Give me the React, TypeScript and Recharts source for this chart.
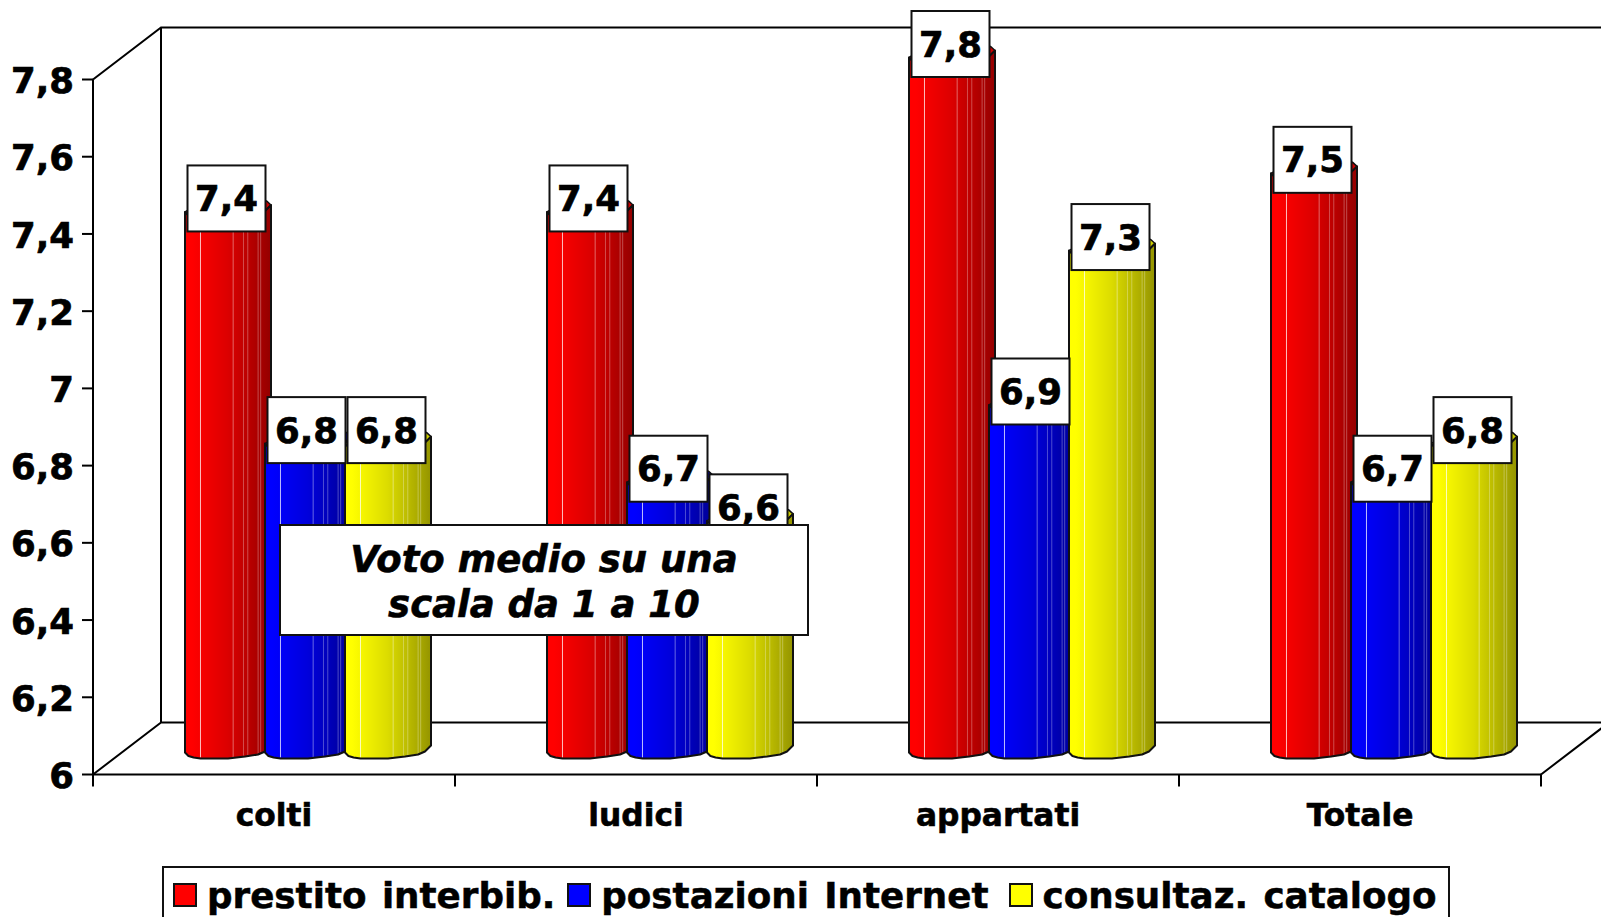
import React from "react";
import { BarChart, Bar, XAxis, YAxis, Legend, LabelList, usePlotArea } from "recharts";

const categories = ["colti", "ludici", "appartati", "Totale"];
const prestito = [7.4, 7.4, 7.8, 7.5];
const postazioni = [6.8, 6.7, 6.9, 6.7];
const consultaz = [6.8, 6.6, 7.3, 6.8];
const yTicks = [6, 6.2, 6.4, 6.6, 6.8, 7, 7.2, 7.4, 7.6, 7.8];
const seriesNames = ["prestito interbib.", "postazioni Internet", "consultaz. catalogo"];
const seriesColors = ["#ff0000", "#0000ff", "#ffff00"];
const noteLines = ["Voto medio su una", "scala da 1 a 10"];

const rows = categories.map((c, i) => ({
  category: c,
  prestito: prestito[i],
  postazioni: postazioni[i],
  consultaz: consultaz[i],
}));

const FONT = "'DejaVu Sans', Verdana, sans-serif";
const comma = (v: number | string) => String(v).replace(".", ",");

// 3D look of the original
const DEPTH_X = 68;
const DEPTH_Y = 52;
const BAR_SHIFT_X = 31;
const BAR_W = 86;
const LEGEND_GAPS = [12, 20, 0];

const PROFILE: [number, number][] = [
  [0, -22], [0.04, -18.5], [0.1, -17], [0.18, -16], [0.5, -16], [0.6, -17],
  [0.7, -18], [0.85, -20], [0.93, -23], [1, -29],
];
const BACK_ARC: [number, number][] = [
  [1, -29], [0.95, -33], [0.7, -36], [0.35, -34], [0.1, -27], [0, -22],
];
const STREAKS: [number, number][] = [
  [0.18, 0.75], [0.56, 0.4], [0.68, 0.3], [0.73, 0.3], [0.85, 0.3], [0.88, 0.3],
];

function Frame() {
  const p = usePlotArea();
  if (!p) return null;
  const L = p.x, T = p.y, R = p.x + p.width, B = p.y + p.height;
  const lc = "#000";
  const step = p.width / categories.length;
  return (
    <g>
      <defs>
        <linearGradient id="shade" x1="0" x2="1" y1="0" y2="0">
          <stop offset="0" stopColor="#000" stopOpacity="0" />
          <stop offset="0.08" stopColor="#000" stopOpacity="0" />
          <stop offset="0.5" stopColor="#000" stopOpacity="0.14" />
          <stop offset="0.9" stopColor="#000" stopOpacity="0.36" />
          <stop offset="1" stopColor="#000" stopOpacity="0.42" />
        </linearGradient>
      </defs>
      <path
        d={`M${L} ${T}L${L + DEPTH_X} ${T - DEPTH_Y}L1601 ${T - DEPTH_Y}M${L + DEPTH_X} ${T - DEPTH_Y}L${L + DEPTH_X} ${B - DEPTH_Y}L1601 ${B - DEPTH_Y}M${L} ${B}L${L + DEPTH_X} ${B - DEPTH_Y}M${R} ${B}L${R + DEPTH_X} ${B - DEPTH_Y}`}
        stroke={lc}
        strokeWidth={2}
        fill="none"
      />
      {[0, 1, 2, 3, 4].map((i) => (
        <line key={i} x1={L + i * step} x2={L + i * step} y1={B} y2={B + 12} stroke={lc} strokeWidth={2} />
      ))}
    </g>
  );
}

function Cylinder(props: any) {
  const { x, y, width, height, fill } = props;
  const x0 = x + BAR_SHIFT_X;
  const base = y + height;
  const at = (pts: [number, number][], y0: number) =>
    pts.map(([f, d]) => `${x0 + f * BAR_W} ${y0 + d}`);
  const top = at(PROFILE, y);
  const bottom = at(PROFILE, base).reverse();
  const body = `M${top.join("L")}L${bottom.join("L")}Z`;
  const cap = `M${at(PROFILE, y).join("L")}L${at(BACK_ARC, y).join("L")}Z`;
  const profileAt = (f: number) => {
    for (let i = 1; i < PROFILE.length; i++) {
      if (f <= PROFILE[i][0]) {
        const [a, da] = PROFILE[i - 1];
        const [b, db] = PROFILE[i];
        return da + ((f - a) / (b - a)) * (db - da);
      }
    }
    return -29;
  };
  return (
    <g>
      <path d={body} fill={fill} />
      <path d={body} fill="url(#shade)" />
      {STREAKS.map(([f, o]) => (
        <line
          key={f}
          x1={x0 + f * BAR_W}
          x2={x0 + f * BAR_W}
          y1={y + profileAt(f)}
          y2={base + profileAt(f) - 1}
          stroke="#fff"
          strokeOpacity={o}
          strokeWidth={1}
        />
      ))}
      <path d={cap} fill={fill} />
      <path d={cap} fill="#000" fillOpacity={0.2} />
      <path d={body} fill="none" stroke="#111" strokeWidth={2} strokeLinejoin="round" />
      <path d={cap} fill="none" stroke="#111" strokeWidth={1.5} strokeLinejoin="round" />
    </g>
  );
}

function ValueBox(props: any) {
  const { x, y, value } = props;
  const left = x + BAR_SHIFT_X + 2.5;
  const top = y - 68.5;
  return (
    <g>
      <rect x={left} y={top} width={78} height={66} fill="#fff" stroke="#111" strokeWidth={2} />
      <text
        x={left + 39}
        y={top + 45.5}
        textAnchor="middle"
        fontFamily={FONT}
        fontWeight="bold"
        fontSize={35.5}
        fill="#000"
        stroke="#000"
        strokeWidth={0.7}
      >
        {comma(value)}
      </text>
    </g>
  );
}

function LegendBox({ payload }: any) {
  return (
    <div
      style={{
        boxSizing: "border-box",
        width: 1288,
        height: 62,
        border: "2px solid #111",
        background: "#fff",
        display: "flex",
        alignItems: "flex-start",
        paddingLeft: 9,
        fontFamily: FONT,
        fontWeight: "bold",
        fontSize: 35.7,
        wordSpacing: 3,
        color: "#000",
        whiteSpace: "nowrap",
        WebkitTextStroke: "0.5px #000",
      }}
    >
      {(payload || []).map((e: any, i: number) => (
        <div key={e.value} style={{ display: "flex", alignItems: "flex-start", marginRight: LEGEND_GAPS[i] }}>
          <span
            style={{
              display: "block",
              boxSizing: "border-box",
              width: 24,
              height: 24,
              marginTop: 15,
              marginRight: 10,
              background: e.color,
              border: "2px solid #111",
            }}
          />
          <span style={{ lineHeight: "41px", marginTop: 7 }}>{e.value}</span>
        </div>
      ))}
    </div>
  );
}

export default function App() {
  return (
    <div style={{ position: "absolute", left: 0, top: 0, width: 1601, height: 917, overflow: "hidden", background: "#fff" }}>
      <BarChart
        width={1601}
        height={917}
        data={rows}
        margin={{ top: 79.5, right: 60, bottom: 102.5, left: 0 }}
        barSize={80}
        barGap={0}
      >
        <Frame />
        <XAxis
          dataKey="category"
          interval={0}
          height={40}
          tickLine={false}
          axisLine={{ stroke: "#000", strokeWidth: 2 }}
          tickMargin={23}
          tick={{ fontFamily: FONT, fontWeight: "bold", fontSize: 31.3, fill: "#000", stroke: "#000", strokeWidth: 0.6 }}
        />
        <YAxis
          width={93}
          domain={[6, 7.8]}
          ticks={yTicks}
          interval={0}
          tickSize={11}
          tickMargin={8}
          tickFormatter={comma}
          axisLine={{ stroke: "#000", strokeWidth: 2 }}
          tickLine={{ stroke: "#000", strokeWidth: 2 }}
          tick={{ fontFamily: FONT, fontWeight: "bold", fontSize: 35.5, fill: "#000", stroke: "#000", strokeWidth: 0.7, dy: 1 }}
        />
        <Legend
          content={<LegendBox />}
          itemSorter={null}
          layout="horizontal"
          verticalAlign="middle"
          wrapperStyle={{ position: "absolute", left: 162, top: 866, width: 1288, height: 62 }}
        />
        <Bar dataKey="prestito" name={seriesNames[0]} fill={seriesColors[0]} shape={<Cylinder />} isAnimationActive={false}>
          <LabelList dataKey="prestito" content={<ValueBox />} />
        </Bar>
        <Bar dataKey="postazioni" name={seriesNames[1]} fill={seriesColors[1]} shape={<Cylinder />} isAnimationActive={false}>
          <LabelList dataKey="postazioni" content={<ValueBox />} />
        </Bar>
        <Bar dataKey="consultaz" name={seriesNames[2]} fill={seriesColors[2]} shape={<Cylinder />} isAnimationActive={false}>
          <LabelList dataKey="consultaz" content={<ValueBox />} />
        </Bar>
      </BarChart>
      <div
        style={{
          position: "absolute",
          left: 279,
          top: 523.5,
          width: 530,
          height: 112,
          boxSizing: "border-box",
          border: "2px solid #111",
          background: "#fff",
          fontFamily: FONT,
          fontWeight: "bold",
          fontStyle: "italic",
          fontSize: 37,
          lineHeight: "45px",
          textAlign: "center",
          paddingTop: 11,
          color: "#000",
          WebkitTextStroke: "0.6px #000",
        }}
      >
        {noteLines.map((t) => (
          <div key={t}>{t}</div>
        ))}
      </div>
    </div>
  );
}
